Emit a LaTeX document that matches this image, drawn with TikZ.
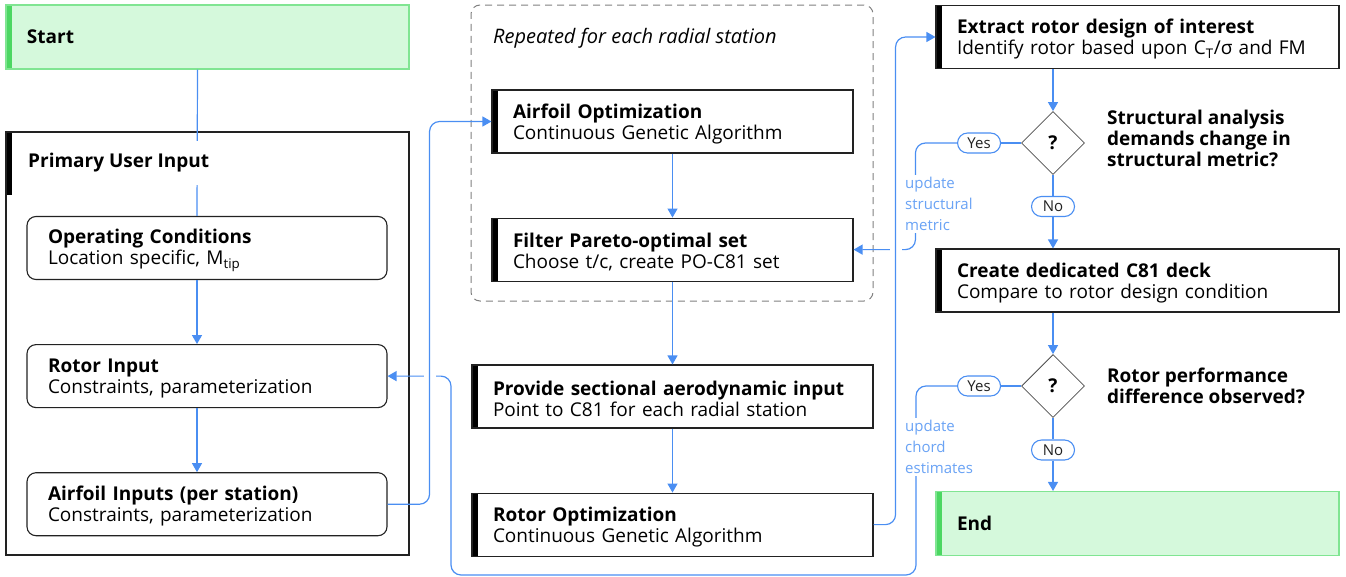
\documentclass[tikz,border=0pt]{standalone}
\usepackage{fontspec}
\setmainfont{Open Sans}
\usetikzlibrary{arrows.meta,positioning,shapes.geometric,calc}
\definecolor{flowblue}{HTML}{4A8EF2}
\definecolor{noteblue}{HTML}{6AA3F5}
\definecolor{boxline}{HTML}{222222}
\definecolor{termfill}{HTML}{D5F9DC}
\definecolor{termline}{HTML}{80E592}
\definecolor{termbar}{HTML}{4CD762}
\definecolor{dashgray}{HTML}{808080}

\begin{document}
\begin{tikzpicture}[x=1pt, y=-1pt,
    boxbase/.style={draw=boxline, fill=white, line width=1.1pt,
                    minimum height=63pt, text width=#1, inner xsep=21pt,
                    align=left, font=\fontsize{19}{21}\selectfont,
                    execute at begin node={\rule{0pt}{19pt}}},
    stage/.style={boxbase=#1,
                  path picture={\fill[black] (path picture bounding box.north west)
                    rectangle ([xshift=6pt]path picture bounding box.south west);}},
    inbox/.style={boxbase=#1, rounded corners=9pt},
    term/.style={draw=termline, fill=termfill, line width=1.1pt,
                 minimum height=64pt, text width=361pt, inner xsep=21pt,
                 align=left, font=\fontsize{19}{21}\selectfont\bfseries,
                 path picture={\fill[termbar] (path picture bounding box.north west)
                   rectangle ([xshift=6pt]path picture bounding box.south west);}},
    group/.style={draw=boxline, line width=1.1pt, minimum width=403pt, minimum height=423pt,
                  path picture={\fill[black] (path picture bounding box.north west)
                    rectangle ([xshift=6pt,yshift=-63pt]path picture bounding box.north west);}},
    repeat/.style={draw=dashgray, line width=1pt, dash pattern=on 7pt off 5pt,
                   rounded corners=9pt, minimum width=402pt, minimum height=296pt},
    query/.style={diamond, draw=boxline!80, fill=white, line width=0.8pt,
                  minimum size=63pt, inner sep=0pt, font=\fontsize{19}{21}\selectfont\bfseries},
    asktext/.style={align=left, font=\fontsize{19}{21}\selectfont\bfseries, inner sep=0pt},
    pill/.style={draw=flowblue, fill=white, line width=1.1pt, rounded corners=10pt,
                 minimum width=43pt, minimum height=20pt, inner sep=0pt,
                 font=\fontsize{15}{16}\selectfont, text=boxline},
    note/.style={fill=white, align=left, inner sep=2pt, text=noteblue,
                 font=\fontsize{15}{21}\selectfont},
    gap/.style={fill=white, minimum width=12pt, minimum height=6pt, inner sep=0pt},
    lnk/.style={flowblue, line width=1.2pt},
    arr/.style={-{Triangle[length=9pt,width=10pt]}, flowblue, line width=1.2pt},
  ]
  \useasboundingbox (0,0) rectangle (1346,576);

  % Left column
  \node[term] (start) at (207.5,37) {Start};
  \node[group] (prim) at (207.5,343.5) {};
  \node[inbox=318pt] (opcond) at (207,248)
    {\textbf{Operating Conditions}\\Location specific, M\textsubscript{tip}};
  \node[inbox=318pt, below=64pt of opcond] (rotorin)
    {\textbf{Rotor Input}\\Constraints, parameterization};
  \node[inbox=318pt, below=64pt of rotorin] (airin)
    {\textbf{Airfoil Inputs (per station)}\\Constraints, parameterization};

  % Middle column
  \node[repeat] (rep) at (672,153) {};
  \node[anchor=west, inner sep=0pt, font=\fontsize{20}{21}\selectfont\itshape] (reptitle) at (493,38)
    {Repeated for each radial station};
  \node[stage=319pt] (aopt) at (672.5,121.5)
    {\textbf{Airfoil Optimization}\\Continuous Genetic Algorithm};
  \node[stage=319pt, below=64pt of aopt] (filter)
    {\textbf{Filter Pareto-optimal set}\\Choose t/c, create PO-C81 set};
  \node[stage=359pt] (provide) at (672.5,396.5)
    {\textbf{Provide sectional aerodynamic input}\\Point to C81 for each radial station};
  \node[stage=359pt, below=64pt of provide] (rotopt)
    {\textbf{Rotor Optimization}\\Continuous Genetic Algorithm};

  % Right column
  \node[stage=361pt] (extract) at (1137.5,37)
    {\textbf{Extract rotor design of interest}\\Identify rotor based upon C\textsubscript{T}/σ and FM};
  \node[query] (q1) at (1053,143) {?};
  \node[asktext, right=22pt of q1, yshift=5pt] (ask1)
    {Structural analysis\\demands change in\\structural metric?};
  \node[pill, left=20pt of q1] (yes1) {Yes};
  \node[pill] (no1) at (1053,206.5) {No};
  \node[stage=361pt] (create) at (1137.5,280.5)
    {\textbf{Create dedicated C81 deck}\\Compare to rotor design condition};
  \node[query] (q2) at (1053,386) {?};
  \node[asktext, right=22pt of q2] (ask2)
    {Rotor performance\\difference observed?};
  \node[pill, left=20pt of q2] (yes2) {Yes};
  \node[pill] (no2) at (1053,450) {No};
  \node[term] (endn) at (1137.5,523.5) {End};

  % Arrows
  \draw[lnk] ([xshift=-10pt]start.south) -- ([xshift=-10pt]opcond.north);
  \draw[arr] ([xshift=-10pt]opcond.south) -- ([xshift=-10pt]rotorin.north);
  \draw[arr] ([xshift=-10pt]rotorin.south) -- ([xshift=-10pt]airin.north);
  \draw[arr] (aopt.south) -- (filter.north);
  \draw[arr] (filter.south) -- (provide.north);
  \draw[arr] (provide.south) -- (rotopt.north);
  \draw[arr] (extract.south -| q1.north) -- (q1.north);
  \draw[lnk] (q1.south) -- (no1.north);
  \draw[arr] (no1.south) -- (no1.south |- create.north);
  \draw[lnk] (q1.west) -- (yes1.east);
  \draw[arr] (create.south -| q2.north) -- (q2.north);
  \draw[lnk] (q2.south) -- (no2.north);
  \draw[arr] (no2.south) -- (no2.south |- endn.north);
  \draw[lnk] (q2.west) -- (yes2.east);

  % Feedback loops
  \coordinate (chordR) at (916,575);
  \coordinate (chordL) at (451,575);
  \draw[arr, rounded corners=10pt] (yes1.west) -| ([xshift=-20pt]create.west |- filter.east) -- (filter.east);
  \draw[arr, rounded corners=10pt] (yes2.west) -| (chordR) -- (chordL) |- (rotorin.east);
  \node[gap] (gapA) at ([xshift=42pt]airin.east |- rotorin.east) {};
  \node[gap] (gapB) at ([xshift=22pt]rotopt.east |- filter.east) {};
  \draw[arr, rounded corners=10pt] (airin.east) -- ++(42,0) |- (aopt.west);
  \draw[arr, rounded corners=10pt] (rotopt.east) -- ++(22,0) |- (extract.west);

  % Labels over the lines
  \node[fill=white, anchor=west, minimum height=44pt, inner xsep=6pt,
        font=\fontsize{19}{21}\selectfont\bfseries] (primtitle) at (22,163) {Primary User Input};
  \node[note, anchor=west] (updstruct) at (903,204) {update\\structural\\metric};
  \node[note, anchor=west] (updchord) at (903,447) {update\\chord\\estimates};
\end{tikzpicture}
\end{document}
